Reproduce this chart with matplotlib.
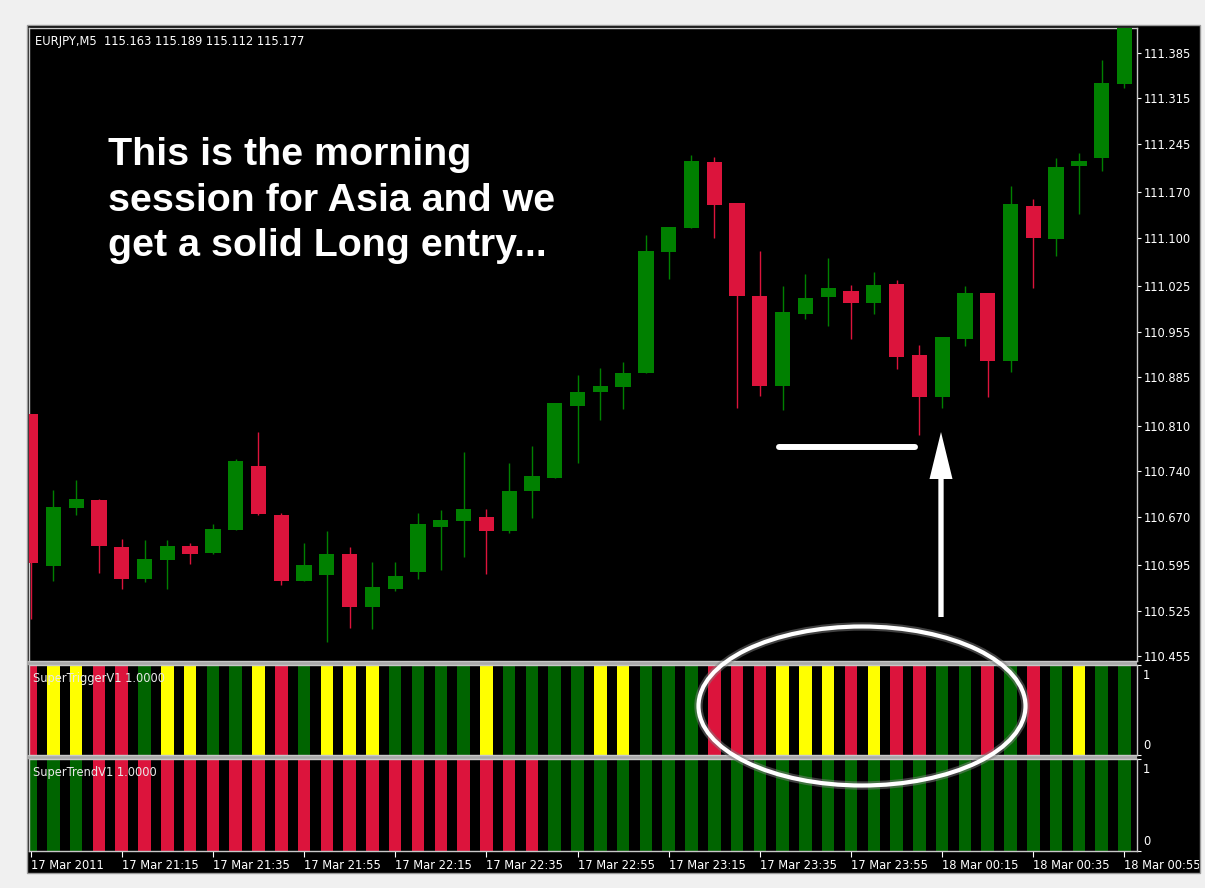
# plot.py
"""
Recreation of a MetaTrader EURJPY M5 screenshot with SuperTrigger / SuperTrend panels.
"""

# ---------------------------------------------------------------------------------------------
# Library Imports
import numpy as np
import matplotlib.pyplot as plt
from matplotlib.patches import Ellipse, Rectangle, FancyArrow
from matplotlib.transforms import Bbox, TransformedBbox

# ---------------------------------------------------------------------------------------------
# Data
opens = [110.828, 110.593, 110.683, 110.695, 110.623, 110.573, 110.603, 110.625, 110.614, 110.650,
         110.748, 110.673, 110.571, 110.580, 110.612, 110.531, 110.559, 110.584, 110.654, 110.663,
         110.669, 110.648, 110.709, 110.729, 110.841, 110.862, 110.869, 110.891, 111.078, 111.115,
         111.216, 111.154, 111.010, 110.871, 110.982, 111.008, 111.018, 110.999, 111.029, 110.919,
         110.854, 110.944, 111.014, 110.909, 111.148, 111.098, 111.210, 111.223, 111.337]
highs = [110.828, 110.711, 110.726, 110.697, 110.636, 110.634, 110.634, 110.629, 110.658, 110.759,
         110.801, 110.675, 110.629, 110.647, 110.623, 110.600, 110.600, 110.675, 110.680, 110.770,
         110.682, 110.752, 110.779, 110.845, 110.888, 110.899, 110.908, 111.104, 111.117, 111.227,
         111.225, 111.154, 111.080, 111.025, 111.044, 111.069, 111.027, 111.047, 111.034, 110.934,
         110.946, 111.025, 111.014, 111.179, 111.159, 111.223, 111.231, 111.374, 111.460]
lows = [110.512, 110.571, 110.673, 110.583, 110.559, 110.569, 110.559, 110.597, 110.612, 110.650,
        110.672, 110.564, 110.571, 110.476, 110.498, 110.496, 110.555, 110.573, 110.588, 110.608,
        110.581, 110.645, 110.667, 110.729, 110.753, 110.819, 110.836, 110.891, 111.036, 111.115,
        111.100, 110.838, 110.856, 110.834, 110.975, 110.964, 110.944, 110.982, 110.897, 110.796,
        110.838, 110.933, 110.854, 110.893, 111.023, 111.072, 111.137, 111.203, 111.330]
closes = [110.599, 110.684, 110.697, 110.624, 110.573, 110.605, 110.625, 110.612, 110.651, 110.755,
          110.674, 110.571, 110.596, 110.612, 110.531, 110.561, 110.579, 110.658, 110.665, 110.682,
          110.648, 110.710, 110.732, 110.845, 110.862, 110.871, 110.891, 111.080, 111.117, 111.218,
          111.150, 111.010, 110.871, 110.985, 111.007, 111.022, 110.999, 111.027, 110.916, 110.854,
          110.946, 111.014, 110.909, 111.152, 111.100, 111.209, 111.218, 111.339, 111.440]

# SuperTrigger state per bar: R = red, Y = yellow, G = green
trigger_state = list("RYYRRGYYGGYRGYYYGGGGYGGGGY" "YGGGRRRYYYRYRRGGRGRGYGG")
trigger_value = [1] * len(trigger_state)

# SuperTrend state per bar
trend_state = list("GGG" + "R" * 20 + "G" * 26)
trend_value = [1] * len(trend_state)

price_ticks = [111.385, 111.315, 111.245, 111.170, 111.100, 111.025, 110.955,
               110.885, 110.810, 110.740, 110.670, 110.595, 110.525, 110.455]

time_labels = ["17 Mar 2011", "17 Mar 21:15", "17 Mar 21:35", "17 Mar 21:55", "17 Mar 22:15",
               "17 Mar 22:35", "17 Mar 22:55", "17 Mar 23:15", "17 Mar 23:35", "17 Mar 23:55",
               "18 Mar 00:15", "18 Mar 00:35", "18 Mar 00:55"]

header_text = "EURJPY,M5  115.163 115.189 115.112 115.177"
note_text = "This is the morning\nsession for Asia and we\nget a solid Long entry..."

# ---------------------------------------------------------------------------------------------
# Styling
W, H, DPI = 1205, 888, 100
CANDLE_UP = "#008000"
CANDLE_DN = "#dc143c"
IND_COLORS = {"R": "#dc143c", "Y": "#ffff00", "G": "#006400"}
FRAME = "#c8c8c8"
SMALL = dict(family="DejaVu Sans", fontsize=8.3, color="white")


def px_rect(x0, y0, x1, y1):
    """Figure-fraction rect from pixel box (y measured from top)."""
    return [x0 / W, 1 - y1 / H, (x1 - x0) / W, (y1 - y0) / H]


def style_panel(ax):
    ax.set_facecolor("black")
    for s in ax.spines.values():
        s.set_color(FRAME)
        s.set_linewidth(1)
    ax.tick_params(colors="white", labelcolor="white", length=3, width=0.8)


n = len(opens)
x = np.arange(n)
xlim = (-0.07, n - 1 + 0.55)

fig = plt.figure(figsize=(W / DPI, H / DPI), dpi=DPI, facecolor="#f0f0f0")

# black chart window
fig.add_artist(Rectangle((27 / W, 1 - 873 / H), (1200 - 27) / W, (873 - 25) / H,
                         transform=fig.transFigure, facecolor="black",
                         edgecolor="#9a9a9a", linewidth=1, zorder=0))
# panel separators
for y0, y1 in [(661, 665), (755, 759)]:
    fig.add_artist(Rectangle((27 / W, 1 - y1 / H), (1137 - 27) / W, (y1 - y0) / H,
                             transform=fig.transFigure, facecolor="#a8a8a8",
                             edgecolor="none", zorder=0))

# ---------------------------------------------------------------------------------------------
# Price panel
ax_p = fig.add_axes(px_rect(29, 28, 1137, 661))
style_panel(ax_p)
o = np.array(opens)
c = np.array(closes)
up = c >= o
cols = np.where(up, CANDLE_UP, CANDLE_DN)
ax_p.vlines(x, lows, highs, colors=cols, linewidth=1.0, zorder=2)
body = np.maximum(np.abs(c - o), 0.0015)
ax_p.bar(x, body, bottom=np.minimum(o, c), width=0.67, color=cols, linewidth=0, zorder=3)
ax_p.set_xlim(*xlim)
ax_p.set_ylim(110.4473, 111.4231)
ax_p.set_xticks([])
ax_p.yaxis.tick_right()
ax_p.set_yticks(price_ticks)
ax_p.set_yticklabels([f"{v:.3f}" for v in price_ticks], **SMALL)
ax_p.tick_params(axis="y", pad=2)
ax_p.text(6 / 1108, 1 - 14 / 633, header_text, transform=ax_p.transAxes, va="center", **SMALL)

# ---------------------------------------------------------------------------------------------
# Indicator panels
def indicator_panel(rect, states, values, title):
    ax = fig.add_axes(px_rect(*rect))
    style_panel(ax)
    ax.bar(x, values, width=0.55, color=[IND_COLORS[s] for s in states], linewidth=0)
    ax.set_xlim(*xlim)
    ax.set_ylim(0, 1)
    ax.yaxis.tick_right()
    ax.set_yticks([0, 1])
    ax.set_yticklabels([])
    # MT4 draws the scale labels just inside the panel edges
    for v, lab, dy in [(1, "1", -10), (0, "0", 10)]:
        ax.annotate(lab, xy=(1, v), xycoords=("axes fraction", "data"),
                    xytext=(6, dy), textcoords="offset pixels",
                    va="center", ha="left", annotation_clip=False, **SMALL)
    ax.text(4 / 1108, 0.85, title, transform=ax.transAxes, va="center",
            family="DejaVu Sans", fontsize=8.3, color="#e8e8e8", zorder=5)
    return ax


ax_t = indicator_panel((29, 665, 1137, 755), trigger_state, trigger_value, "SuperTriggerV1 1.0000")
ax_t.set_xticks([])
ax_s = indicator_panel((29, 759, 1137, 851), trend_state, trend_value, "SuperTrendV1 1.0000")

tick_pos = x[::4]
ax_s.set_xticks(tick_pos)
ax_s.set_xticklabels(time_labels, ha="left", **SMALL)
ax_s.tick_params(axis="x", length=4, pad=1.5)
clip = TransformedBbox(Bbox([[27 / W, 0], [1199 / W, 1]]), fig.transFigure)
for lbl in ax_s.get_xticklabels():
    lbl.set_clip_box(clip)
    lbl.set_clip_on(True)

# ---------------------------------------------------------------------------------------------
# Annotations drawn in pixel space
ov = fig.add_axes([0, 0, 1, 1], zorder=10)
ov.set_xlim(0, W)
ov.set_ylim(H, 0)
ov.axis("off")
ov.patch.set_alpha(0)

ov.text(108, 137, note_text, family="Liberation Sans", weight="bold", fontsize=28.4,
        color="white", va="top", ha="left", linespacing=1.34)

ov.plot([779, 915], [447, 447], color="white", linewidth=4.3, solid_capstyle="round")
ov.add_patch(FancyArrow(941, 617, 0, -(617 - 432), width=5.3, head_width=23, head_length=47,
                        length_includes_head=True, color="white", linewidth=0))

ov.add_patch(Ellipse((862, 706), 327, 159, fill=False, edgecolor="#808080",
                     linewidth=6, alpha=0.5))
ov.add_patch(Ellipse((862, 706), 327, 159, fill=False, edgecolor="white", linewidth=3))

fig.savefig("out.png", dpi=DPI, facecolor=fig.get_facecolor())
